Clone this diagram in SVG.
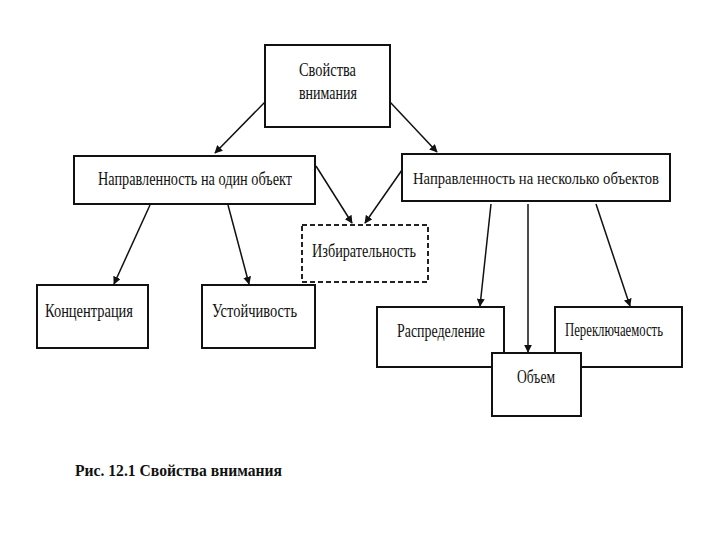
<svg xmlns="http://www.w3.org/2000/svg" width="720" height="540" viewBox="0 0 720 540">
<style>
.box{fill:#fff;stroke:#111;stroke-width:2}
.dash{fill:#fff;stroke:#222;stroke-width:2;stroke-dasharray:5 3}
.t{font-family:"Liberation Serif","Times New Roman",serif;font-size:19px;fill:#111}
.cap{font-family:"Liberation Serif","Times New Roman",serif;font-size:17px;font-weight:bold;fill:#111}
.c{stroke:#111;stroke-width:1.5;fill:none;marker-end:url(#ah)}
</style>
<defs>
<marker id="ah" viewBox="0 0 10 10" refX="9" refY="5" markerWidth="8" markerHeight="8" orient="auto" markerUnits="userSpaceOnUse">
<path d="M0,0 L10,5 L0,10 z" fill="#111"/>
</marker>
</defs>
<rect width="720" height="540" fill="#fff"/>
<g id="connectors">
<line class="c" x1="265" y1="102" x2="215" y2="153"/>
<line class="c" x1="390" y1="102" x2="437" y2="152"/>
<line class="c" x1="316" y1="166" x2="352" y2="223"/>
<line class="c" x1="402" y1="170" x2="365" y2="223"/>
<line class="c" x1="150" y1="205" x2="114" y2="284"/>
<line class="c" x1="228" y1="205" x2="249" y2="284"/>
<line class="c" x1="491" y1="204" x2="480" y2="306"/>
<line class="c" x1="528" y1="204" x2="528" y2="352"/>
<line class="c" x1="596" y1="204" x2="630" y2="306"/>
</g>
<g id="n-root"><rect class="box" x="265" y="45" width="125" height="82"/>
<text class="t" x="299" y="76" textLength="57" lengthAdjust="spacingAndGlyphs">Свойства</text>
<text class="t" x="299" y="99" textLength="58" lengthAdjust="spacingAndGlyphs">внимания</text></g>
<g id="n-one"><rect class="box" x="74" y="156" width="241" height="48"/>
<text class="t" x="98" y="185" textLength="194" lengthAdjust="spacingAndGlyphs">Направленность на один объект</text></g>
<g id="n-many"><rect class="box" x="402" y="154" width="268" height="47"/>
<text class="t" x="413" y="184" style="font-size:17px" textLength="246" lengthAdjust="spacingAndGlyphs">Направленность на несколько объектов</text></g>
<g id="n-sel"><rect class="dash" x="302" y="225" width="126" height="57"/>
<text class="t" x="312" y="257" textLength="104" lengthAdjust="spacingAndGlyphs">Избирательность</text></g>
<g id="n-conc"><rect class="box" x="37" y="285" width="111" height="63"/>
<text class="t" x="45" y="317" textLength="88" lengthAdjust="spacingAndGlyphs">Концентрация</text></g>
<g id="n-stab"><rect class="box" x="202" y="285" width="113" height="63"/>
<text class="t" x="212" y="317" textLength="85" lengthAdjust="spacingAndGlyphs">Устойчивость</text></g>
<g id="n-dist"><rect class="box" x="377" y="307" width="127" height="60"/>
<text class="t" x="397" y="337" textLength="88" lengthAdjust="spacingAndGlyphs">Распределение</text></g>
<g id="n-switch"><rect class="box" x="555" y="307" width="127" height="60"/>
<text class="t" x="565" y="336" textLength="98" lengthAdjust="spacingAndGlyphs">Переключаемость</text></g>
<g id="n-vol"><rect class="box" x="492" y="353" width="89" height="63"/>
<text class="t" x="517" y="383" textLength="38" lengthAdjust="spacingAndGlyphs">Объем</text></g>
<text class="cap" x="75" y="476" textLength="207" lengthAdjust="spacingAndGlyphs">Рис. 12.1 Свойства внимания</text>
</svg>
